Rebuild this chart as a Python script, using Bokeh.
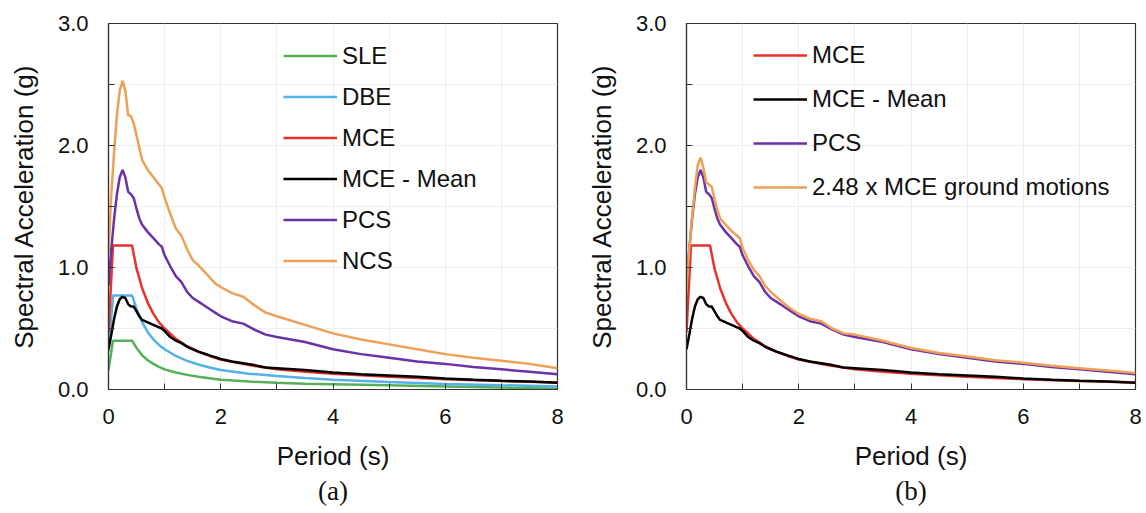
from bokeh.plotting import figure
from bokeh.layouts import row
from bokeh.models import Legend, LegendItem, FixedTicker, Title, Range1d, CustomJSTickFormatter
from bokeh.embed import file_html
from bokeh.resources import INLINE

# ---------------- data ----------------
# design spectra periods (s)
design_period = [0, 0.08, 0.42, 0.5, 0.6, 0.7, 0.8, 0.9, 1.0, 1.2, 1.4, 1.6, 1.8, 2.0,
                 2.5, 3.0, 3.5, 4.0, 5.0, 6.0, 7.0, 8.0]
sle = [0.16, 0.40, 0.40, 0.34, 0.28, 0.24, 0.21, 0.185, 0.165, 0.14, 0.12, 0.105, 0.092, 0.08,
       0.065, 0.055, 0.048, 0.043, 0.034, 0.025, 0.016, 0.008]
dbe = [0.31, 0.77, 0.77, 0.66, 0.55, 0.47, 0.41, 0.365, 0.33, 0.275, 0.235, 0.205, 0.18, 0.16,
       0.13, 0.11, 0.094, 0.08, 0.062, 0.046, 0.035, 0.025]
mce = [0.47, 1.18, 1.18, 0.99, 0.83, 0.71, 0.62, 0.55, 0.50, 0.415, 0.355, 0.31, 0.275, 0.245,
       0.20, 0.165, 0.145, 0.13, 0.105, 0.085, 0.07, 0.058]

# ground-motion based spectra periods (s)
gm_period = [0, 0.05, 0.1, 0.15, 0.2, 0.25, 0.3, 0.35, 0.4, 0.45, 0.5, 0.55, 0.6, 0.7, 0.8, 0.9,
             0.95, 1.0, 1.1, 1.2, 1.3, 1.4, 1.5, 1.6, 1.7, 1.8, 1.9, 2.0, 2.2, 2.4, 2.6, 2.8,
             3.0, 3.5, 4.0, 4.5, 5.0, 5.5, 6.0, 6.5, 7.0, 7.5, 8.0]
mce_mean = [0.33, 0.45, 0.58, 0.68, 0.74, 0.76, 0.75, 0.70, 0.68, 0.68, 0.64, 0.60, 0.57, 0.55,
            0.53, 0.51, 0.50, 0.48, 0.43, 0.40, 0.38, 0.35, 0.33, 0.31, 0.295, 0.28, 0.265,
            0.25, 0.23, 0.215, 0.20, 0.18, 0.175, 0.16, 0.14, 0.125, 0.115, 0.105, 0.09, 0.08,
            0.072, 0.065, 0.056]
pcs = [0.85, 1.15, 1.40, 1.60, 1.74, 1.80, 1.74, 1.62, 1.60, 1.57, 1.48, 1.40, 1.35, 1.29,
       1.24, 1.19, 1.17, 1.10, 1.01, 0.93, 0.88, 0.80, 0.75, 0.72, 0.69, 0.66, 0.63, 0.60,
       0.56, 0.54, 0.49, 0.45, 0.43, 0.39, 0.33, 0.29, 0.26, 0.23, 0.21, 0.185, 0.165, 0.145,
       0.125]
ncs = [1.12, 1.60, 1.95, 2.25, 2.45, 2.53, 2.45, 2.25, 2.24, 2.18, 2.08, 1.98, 1.88, 1.80,
       1.74, 1.68, 1.65, 1.57, 1.44, 1.32, 1.26, 1.15, 1.06, 1.02, 0.97, 0.92, 0.87, 0.84,
       0.79, 0.76, 0.69, 0.63, 0.60, 0.53, 0.46, 0.41, 0.37, 0.33, 0.29, 0.26, 0.235, 0.21,
       0.175]
gm_248 = [0.83, 1.15, 1.42, 1.65, 1.84, 1.90, 1.82, 1.70, 1.68, 1.66, 1.56, 1.47, 1.40, 1.35,
          1.30, 1.26, 1.24, 1.16, 1.06, 0.98, 0.93, 0.85, 0.80, 0.76, 0.72, 0.68, 0.65, 0.62,
          0.58, 0.56, 0.50, 0.46, 0.45, 0.40, 0.34, 0.30, 0.27, 0.24, 0.22, 0.195, 0.175,
          0.155, 0.135]

x_ticks = [0, 2, 4, 6, 8]
x_minor = [1, 3, 5, 7]
y_ticks = [0, 1, 2, 3]
y_minor = [0.5, 1.5, 2.5]

GREEN = "#55B058"
BLUE = "#52B2E8"
RED = "#E8322B"
BLACK = "#000000"
PURPLE = "#6B32A8"
ORANGE = "#EEA057"

FONT = "Liberation Sans"


def make_fig(bl, br, caption):
    p = figure(width=573, height=513, x_range=Range1d(0, 8), y_range=Range1d(0, 3),
               output_backend="svg", toolbar_location=None,
               min_border_left=bl, min_border_right=br, min_border_top=23,
               min_border_bottom=124)
    p.background_fill_color = "white"
    p.border_fill_color = "white"
    p.outline_line_color = "#333333"
    p.outline_line_width = 1.2

    p.xaxis.ticker = FixedTicker(ticks=x_ticks, minor_ticks=x_minor)
    p.yaxis.ticker = FixedTicker(ticks=y_ticks, minor_ticks=y_minor)
    p.yaxis.formatter = CustomJSTickFormatter(code="return tick.toFixed(1);")

    for ax in (p.xaxis[0], p.yaxis[0]):
        ax.axis_line_color = "#333333"
        ax.axis_line_width = 1.2
        ax.major_tick_in = 6
        ax.major_tick_out = 0
        ax.minor_tick_in = 6
        ax.minor_tick_out = 0
        ax.major_tick_line_color = "#333333"
        ax.minor_tick_line_color = "#333333"
        ax.major_label_text_font = FONT
        ax.major_label_text_font_size = "22px"
        ax.major_label_text_color = "#111111"
        ax.axis_label_text_font = FONT
        ax.axis_label_text_font_size = "26px"
        ax.axis_label_text_font_style = "normal"
        ax.axis_label_text_color = "#111111"

    p.xaxis.axis_label = "Period (s)"
    p.yaxis.axis_label = "Spectral Acceleration (g)"
    p.xaxis.major_label_standoff = 19
    p.xaxis.axis_label_standoff = 14
    p.yaxis.major_label_standoff = 20
    p.yaxis.axis_label_standoff = 16

    p.xgrid.ticker = FixedTicker(ticks=[1, 2, 3, 4, 5, 6, 7])
    p.ygrid.ticker = FixedTicker(ticks=[0.5, 1, 1.5, 2, 2.5])
    p.xgrid.grid_line_color = "#eeeeee"
    p.ygrid.grid_line_color = "#eeeeee"

    t = Title(text=caption, align="center", text_font="Liberation Serif",
              text_font_size="27px", text_font_style="normal", text_color="#111111",
              standoff=0)
    p.add_layout(t, "below")
    return p


def style_legend(p, items, loc, row_h):
    leg = Legend(items=items, location=loc, padding=0, margin=0, spacing=0,
                 glyph_width=54, glyph_height=row_h, label_height=row_h,
                 label_standoff=5, label_text_font=FONT, label_text_font_size="24px",
                 label_text_color="#111111", border_line_alpha=0,
                 background_fill_alpha=0)
    p.add_layout(leg, "center")


# ---------------- (a) ----------------
p1 = make_fig(108, 16, "(a)")
r_sle = p1.line(design_period, sle, line_color=GREEN, line_width=2.5)
r_dbe = p1.line(design_period, dbe, line_color=BLUE, line_width=2.5)
r_mce = p1.line(design_period, mce, line_color=RED, line_width=2.5)
r_mean = p1.line(gm_period, mce_mean, line_color=BLACK, line_width=2.5)
r_pcs = p1.line(gm_period, pcs, line_color=PURPLE, line_width=2.5)
r_ncs = p1.line(gm_period, ncs, line_color=ORANGE, line_width=2.5)
style_legend(p1, [LegendItem(label="SLE", renderers=[r_sle]),
                  LegendItem(label="DBE", renderers=[r_dbe]),
                  LegendItem(label="MCE", renderers=[r_mce]),
                  LegendItem(label="MCE - Mean", renderers=[r_mean]),
                  LegendItem(label="PCS", renderers=[r_pcs]),
                  LegendItem(label="NCS", renderers=[r_ncs])],
             (175, 108), 41)

# ---------------- (b) ----------------
p2 = make_fig(113, 11, "(b)")
q_mce = p2.line(design_period, mce, line_color=RED, line_width=2.5)
q_mean = p2.line(gm_period, mce_mean, line_color=BLACK, line_width=2.5)
q_pcs = p2.line(gm_period, pcs, line_color=PURPLE, line_width=2.5)
q_gm = p2.line(gm_period, gm_248, line_color=ORANGE, line_width=2.5)
style_legend(p2, [LegendItem(label="MCE", renderers=[q_mce]),
                  LegendItem(label="MCE - Mean", renderers=[q_mean]),
                  LegendItem(label="PCS", renderers=[q_pcs]),
                  LegendItem(label="2.48 x MCE ground motions", renderers=[q_gm])],
             (67, 180), 44)

layout = row(p1, p2, spacing=0)
open("out.html", "w").write(file_html(layout, INLINE))
